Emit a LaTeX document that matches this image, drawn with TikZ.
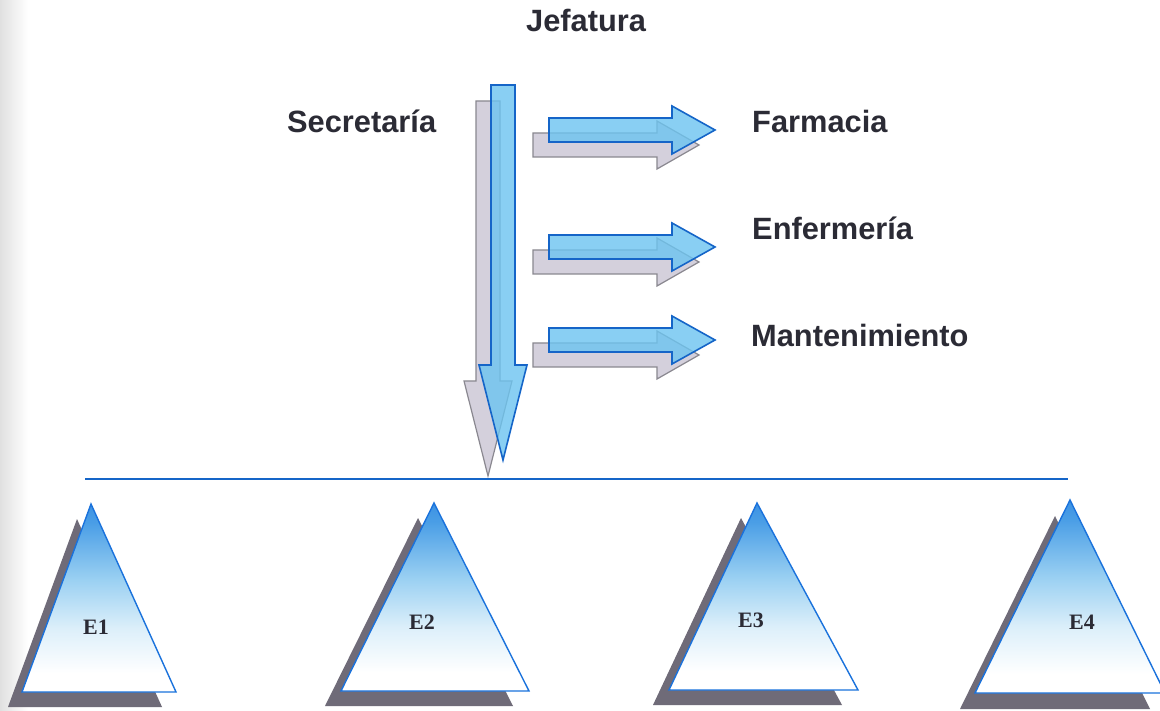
\documentclass[tikz,border=0pt]{standalone}
\usepackage{fontspec}
\setmainfont{Liberation Sans}
\newfontfamily\labfont{Liberation Serif}
\definecolor{txt}{HTML}{2B2B35}
\definecolor{bluefill}{HTML}{6CC4F0}
\definecolor{blueline}{HTML}{1565C8}
\definecolor{grayfill}{HTML}{D4D0DC}
\definecolor{grayline}{HTML}{8A8890}
\definecolor{triblue}{HTML}{1A72DC}
\definecolor{trimed}{HTML}{4A9EE6}
\definecolor{trimid}{HTML}{9AD0F2}
\definecolor{trilight}{HTML}{DCEFFA}
\definecolor{shadowc}{HTML}{6F6B78}
\pgfdeclareverticalshading{trishade}{100bp}{color(0bp)=(white); color(30bp)=(white); color(42bp)=(trilight); color(55bp)=(trimid); color(70bp)=(trimed); color(88bp)=(triblue); color(100bp)=(triblue)}
\tikzset{
  bluearrow/.style={fill=bluefill, fill opacity=0.8, draw=blueline, line width=1.6pt, line join=miter},
  grayarrow/.style={fill=grayfill, draw=grayline, line width=1.2pt, line join=miter},
  lbl/.style={text=txt, font=\fontsize{30.8}{36}\selectfont\bfseries, inner sep=0pt, anchor=base west},
  elbl/.style={text=txt, font=\labfont\fontsize{22}{26}\selectfont\bfseries, inner sep=0pt},
  tri/.style={shading=trishade, draw=triblue, line width=1.4pt, line join=miter},
  trishadow/.style={fill=shadowc, draw=none}
}
\newcommand{\harrow}[1]{%
  \path[grayarrow] (533,#1+3) -- (657,#1+3) -- (657,#1-9) -- (699,#1+15) -- (657,#1+39) -- (657,#1+27) -- (533,#1+27) -- cycle;
  \path[bluearrow] (549,#1-12) -- (672,#1-12) -- (672,#1-24) -- (715,#1) -- (672,#1+24) -- (672,#1+12) -- (549,#1+12) -- cycle;}
\newcommand{\etri}[9]{%
  \path[trishadow] (#1+#7,#2+#8) -- (#3+#7,#4+#8) -- (#5+#7,#4+#8) -- cycle;
  \path[tri] (#1,#2) -- (#3,#4) -- (#5,#4) -- cycle;
  \node[elbl] (#6) at (#9) {#6};}
\begin{document}
\begin{tikzpicture}[x=1pt,y=-1pt]
\useasboundingbox (0,0) rectangle (1160,711);
\fill[white] (0,0) rectangle (1160,711);
\shade[left color=black!12, right color=white] (0,0) rectangle (28,711);
% texts
\node[lbl] (jef) at (526,32) {Jefatura};
\node[lbl] (sec) at (287,133) {Secretaría};
\node[lbl] (far) at (752,133) {Farmacia};
\node[lbl] (enf) at (752,240) {Enfermería};
\node[lbl] (man) at (751,347) {Mantenimiento};
% vertical arrow
\path[grayarrow] (476,101) -- (500,101) -- (500,381) -- (512,381) -- (488,476) -- (464,381) -- (476,381) -- cycle;
\path[bluearrow] (491,85) -- (515,85) -- (515,365) -- (527,365) -- (503,460) -- (479,365) -- (491,365) -- cycle;
% horizontal arrows
\harrow{130}
\harrow{247}
\harrow{340}
% line
\coordinate (la) at (85,479);
\coordinate (lb) at (1068,479);
\draw[blueline, line width=1.3pt] (la) -- (lb);
% triangles
\etri{91}{504}{22}{692}{176}{E1}{-14}{15}{96,627}
\etri{434}{503}{341}{691}{529}{E2}{-16}{15}{422,622}
\etri{757}{503}{669}{690}{858}{E3}{-16}{15}{751,620}
\etri{1070}{500}{975}{693}{1165}{E4}{-15}{16}{1082,622}
\end{tikzpicture}
\end{document}
